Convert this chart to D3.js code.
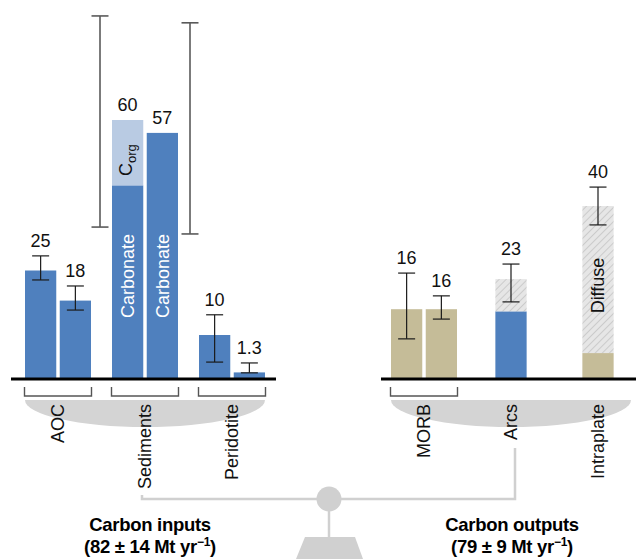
<!DOCTYPE html>
<html>
<head>
<meta charset="utf-8">
<script src="https://cdn.jsdelivr.net/npm/d3@7"></script>
<style>
  body { margin: 0; background: #fff; }
  svg { display: block; font-family: "Liberation Sans", Arial, Helvetica, sans-serif; }
</style>
</head>
<body>
<div id="chart"></div>
<script>
// Data (Mt C per year)
const inputCats = ["AOC", "Sediments", "Peridotite"];
const outputCats = ["MORB", "Arcs", "Intraplate"];
const barCats = ["AOC", "AOC", "Sediments", "Sediments", "Peridotite", "Peridotite", "MORB", "MORB", "Arcs", "Intraplate"];
const barLabels = ["25", "18", "60", "57", "10", "1.3", "16", "16", "23", "40"];
const lowerValues = [25, 18, 44.8, 57, 10, 1.3, 16, 16, 15.5, 5.8];
const upperValues = [0, 0, 15.2, 0, 0, 0, 0, 0, 7.5, 34.2];
const lowerKinds = ["slab", "slab", "slab", "slab", "slab", "slab", "mantle", "mantle", "slab", "mantle"];
const upperKinds = [null, null, "organic", null, null, null, null, null, "diffuse", "diffuse"];
const errLow = [22.8, 15.8, 35.1, 33.5, 3.7, 1.2, 9.1, 13.7, 17.7, 35.6];
const errHigh = [28.4, 21.4, 84.2, 82.6, 14.7, 3.5, 24.4, 19.1, 26.5, 44.4];
const barText = ["", "", "Carbonate", "Carbonate", "", "", "", "", "", "Diffuse"];
const bracketCats = ["AOC", "Sediments", "Peridotite", "MORB"];
const panelTitles = ["Carbon inputs", "Carbon outputs"];
const panelTotals = ["82 \u00b1 14", "79 \u00b1 9"];

const colors = { slab: "#4f80be", organic: "#b9cbe3", mantle: "#c5bc98", diffuse: "url(#hatch)" };

const width = 636, height = 559, base = 378;

const svg = d3.select("#chart").append("svg")
    .attr("width", width)
    .attr("height", height);

// hatch pattern for diffuse degassing
const pat = svg.append("defs").append("pattern")
    .attr("id", "hatch")
    .attr("patternUnits", "userSpaceOnUse")
    .attr("width", 5).attr("height", 5)
    .attr("patternTransform", "rotate(45)");
pat.append("rect").attr("width", 5).attr("height", 5).attr("fill", "#e6e6e6");
pat.append("line").attr("x1", 0).attr("y1", 0).attr("x2", 0).attr("y2", 5)
    .attr("stroke", "#c4c4c4").attr("stroke-width", 1.6);

// Scales
const y = d3.scaleLinear().domain([0, 60]).range([base, 120]);
const xIn = d3.scalePoint().domain(inputCats).range([58, 232]);
const xOut = d3.scalePoint().domain(outputCats).range([424, 598]);
const xCat = c => inputCats.includes(c) ? xIn(c) : xOut(c);
const sub = d3.scaleBand().domain([0, 1]).range([-33, 33]).paddingInner(0.1);
const bw = sub.bandwidth();

// bar geometry
const bars = barCats.map((c, i) => {
    const same = barCats.filter(d => d === c).length;
    const slot = barCats.slice(0, i).filter(d => d === c).length;
    const x0 = same > 1 ? xCat(c) + sub(slot) : xCat(c) - bw / 2;
    return { i, c, slot, same, x0, cx: x0 + bw / 2 };
});

// balance pans
[inputCats, outputCats].forEach(cats => {
    const sc = cats === inputCats ? xIn : xOut;
    const c = (sc(cats[0]) + sc(cats[2])) / 2, rx = 120;
    svg.append("path")
        .attr("d", `M${c - rx},400 A${rx},27 0 0 0 ${c + rx},400 Z`)
        .attr("fill", "#d4d4d4");
});

// lower segments
svg.selectAll(".lower")
    .data(bars)
    .enter()
    .append("rect")
    .attr("x", d => d.x0)
    .attr("width", bw)
    .attr("y", d => y(lowerValues[d.i]))
    .attr("height", d => base - y(lowerValues[d.i]))
    .attr("fill", d => colors[lowerKinds[d.i]]);

// upper segments
svg.selectAll(".upper")
    .data(bars.filter(d => upperKinds[d.i]))
    .enter()
    .append("rect")
    .attr("x", d => d.x0)
    .attr("width", bw)
    .attr("y", d => y(lowerValues[d.i] + upperValues[d.i]))
    .attr("height", d => y(lowerValues[d.i]) - y(lowerValues[d.i] + upperValues[d.i]))
    .attr("fill", d => colors[upperKinds[d.i]]);

// error bars (sediment ones sit outside the group)
const errX = d => d.c === "Sediments" ? xCat(d.c) + (d.slot === 0 ? -45 : 45) : d.cx;
const eb = svg.selectAll(".err")
    .data(bars)
    .enter()
    .append("g")
    .attr("stroke", d => d.c === "Sediments" ? "#5a5a5a" : "#1a1a1a")
    .attr("stroke-width", d => d.c === "Sediments" ? 1.6 : 1.2);
eb.append("line")
    .attr("x1", errX).attr("x2", errX)
    .attr("y1", d => y(errLow[d.i])).attr("y2", d => y(errHigh[d.i]));
eb.append("line")
    .attr("x1", d => errX(d) - 8.5).attr("x2", d => errX(d) + 8.5)
    .attr("y1", d => y(errLow[d.i])).attr("y2", d => y(errLow[d.i]));
eb.append("line")
    .attr("x1", d => errX(d) - 8.5).attr("x2", d => errX(d) + 8.5)
    .attr("y1", d => y(errHigh[d.i])).attr("y2", d => y(errHigh[d.i]));

// value labels
svg.selectAll(".val")
    .data(bars)
    .enter()
    .append("text")
    .attr("x", d => d.cx)
    .attr("y", d => {
        const top = y(lowerValues[d.i] + upperValues[d.i]);
        return (d.c === "Sediments" ? top : Math.min(top, y(errHigh[d.i]))) - 9;
    })
    .attr("text-anchor", "middle")
    .attr("font-size", 18)
    .attr("fill", "#111")
    .text(d => barLabels[d.i]);

// text inside bars
svg.selectAll(".inbar")
    .data(bars.filter(d => barText[d.i]))
    .enter()
    .append("text")
    .attr("transform", d => barText[d.i] === "Carbonate"
        ? `translate(${d.cx},318) rotate(-90)`
        : `translate(${d.cx},${y(lowerValues[d.i] + upperValues[d.i] / 2) + 6}) rotate(-90)`)
    .attr("dy", "0.35em")
    .attr("text-anchor", d => barText[d.i] === "Carbonate" ? "start" : "middle")
    .attr("font-size", 18)
    .attr("fill", d => barText[d.i] === "Carbonate" ? "#fff" : "#111")
    .text(d => barText[d.i]);

// C_org label
const corg = bars.find(d => upperKinds[d.i] === "organic");
const ct = svg.append("text")
    .attr("transform", `translate(${corg.cx - 1.5},176) rotate(-90)`)
    .attr("dy", "0.35em")
    .attr("font-size", 18)
    .attr("fill", "#111");
ct.append("tspan").text("C");
ct.append("tspan").attr("font-size", 13).attr("dy", 4).text("org");

// baselines
svg.append("line").attr("x1", 11).attr("x2", 276).attr("y1", base + 1).attr("y2", base + 1)
    .attr("stroke", "#000").attr("stroke-width", 3);
svg.append("line").attr("x1", 381).attr("x2", width).attr("y1", base + 1).attr("y2", base + 1)
    .attr("stroke", "#000").attr("stroke-width", 3);

// group brackets
svg.selectAll(".bracket")
    .data(bracketCats)
    .enter()
    .append("path")
    .attr("d", c => `M${xCat(c) - 33.5},387 V396 H${xCat(c) + 33.5} V387`)
    .attr("fill", "none")
    .attr("stroke", "#555")
    .attr("stroke-width", 1.4);

// category labels
svg.selectAll(".cat")
    .data(inputCats.concat(outputCats))
    .enter()
    .append("text")
    .attr("transform", c => `translate(${xCat(c)},404) rotate(-90)`)
    .attr("dy", "0.35em")
    .attr("text-anchor", "end")
    .attr("font-size", 18)
    .attr("fill", "#111")
    .text(c => c);

// balance beam
const pivotX = 329, pivotY = 499;
const beam = svg.append("g").attr("stroke", "#d0d0d0").attr("stroke-width", 2.5).attr("fill", "none");
beam.append("path").attr("d", `M${xIn("Sediments") - 3},495 V${pivotY} H${pivotX}`);
beam.append("path").attr("d", `M${xOut("Arcs") + 4},448 V${pivotY} H${pivotX}`);
beam.append("line").attr("x1", pivotX).attr("x2", pivotX).attr("y1", pivotY).attr("y2", 538);
svg.append("circle").attr("cx", pivotX).attr("cy", pivotY).attr("r", 12.5).attr("fill", "#d0d0d0");
svg.append("path").attr("d", `M${pivotX - 24},537 H${pivotX + 26} L${pivotX + 34},${height} H${pivotX - 33} Z`)
    .attr("fill", "#d0d0d0");

// panel titles
[150, 512].forEach((cx, k) => {
    svg.append("text")
        .attr("x", cx).attr("y", 531)
        .attr("text-anchor", "middle")
        .attr("font-size", 18.5).attr("font-weight", "bold")
        .attr("letter-spacing", -0.3)
        .text(panelTitles[k]);
    const t = svg.append("text")
        .attr("x", cx).attr("y", 553)
        .attr("text-anchor", "middle")
        .attr("font-size", 18.5).attr("font-weight", "bold")
        .attr("letter-spacing", -0.3);
    t.append("tspan").text(`(${panelTotals[k]} Mt yr`);
    t.append("tspan").attr("font-size", 12).attr("dy", -7).text("\u22121");
    t.append("tspan").attr("dy", 7).text(")");
});
</script>
</body>
</html>
